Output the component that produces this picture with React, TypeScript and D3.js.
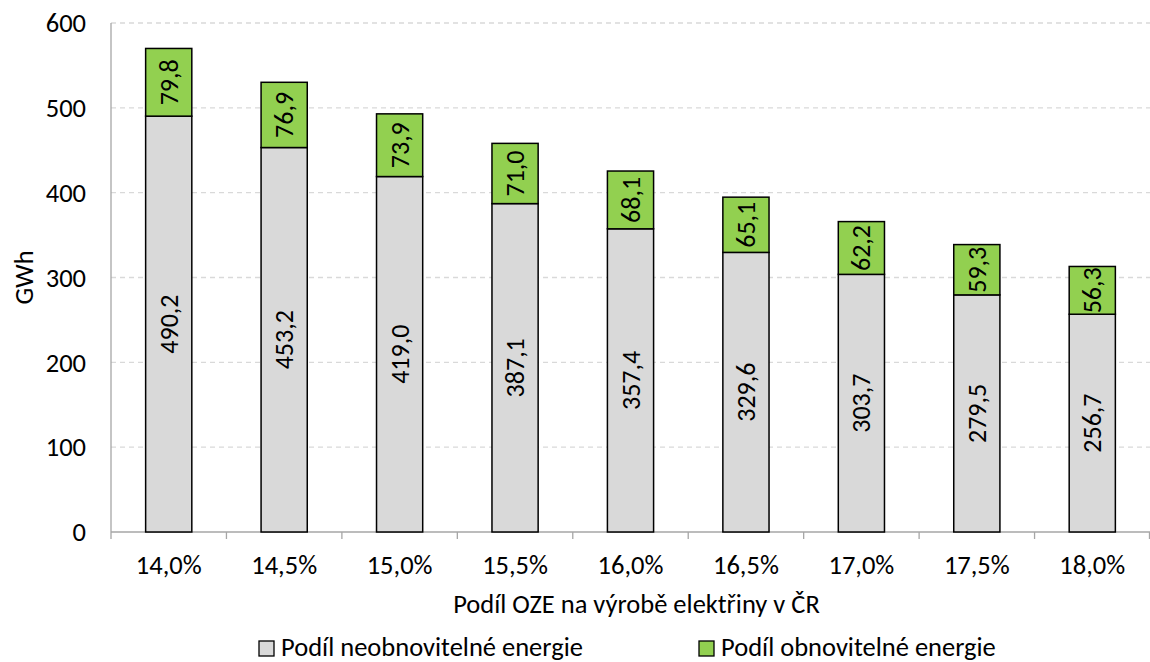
import React from "react";
import * as d3 from "d3";

const categories = ["14,0%", "14,5%", "15,0%", "15,5%", "16,0%", "16,5%", "17,0%", "17,5%", "18,0%"];
const nonRenewable = [490.2, 453.2, 419.0, 387.1, 357.4, 329.6, 303.7, 279.5, 256.7];
const renewable = [79.8, 76.9, 73.9, 71.0, 68.1, 65.1, 62.2, 59.3, 56.3];
const yTicks = [0, 100, 200, 300, 400, 500, 600];
const seriesNames = ["Podíl neobnovitelné energie", "Podíl obnovitelné energie"];
const colors = ["#d9d9d9", "#92d050"];

const fmt = (v: number) => v.toFixed(1).replace(".", ",");
const FONT = "Carlito, Calibri, 'Open Sans', 'Liberation Sans', sans-serif";

export default function App() {
  const W = 1150, H = 662;
  const left = 111, right = 1150, top = 23, bottom = 532;
  const x = d3.scaleBand<string>().domain(categories).range([left, right]).paddingInner(0.6).paddingOuter(0.3);
  const xb = d3.scaleBand<string>().domain(categories).range([left, right]);
  const y = d3.scaleLinear().domain([0, 600]).range([bottom, top]);
  const bw = x.bandwidth();
  const fs = 26.5;

  return (
    <svg width={W} height={H} style={{ position: "absolute", left: 0, top: 0, fontFamily: FONT }}>
      <rect width={W} height={H} fill="white" />
      {yTicks.filter(t => t > 0).map(t => (
        <line key={t} x1={left} x2={right} y1={y(t)} y2={y(t)} stroke="#d9d9d9" strokeWidth={1.3} strokeDasharray="5,4" />
      ))}
      <line x1={left} x2={left} y1={top} y2={bottom} stroke="#a6a6a6" strokeWidth={1.3} />
      <line x1={left} x2={right} y1={bottom} y2={bottom} stroke="#a6a6a6" strokeWidth={1.3} />
      {categories.map((c, i) => (
        <line key={"t" + i} x1={xb(c)!} x2={xb(c)!} y1={bottom} y2={bottom + 7} stroke="#a6a6a6" strokeWidth={1.3} />
      ))}
      <line x1={right - 0.5} x2={right - 0.5} y1={bottom} y2={bottom + 7} stroke="#a6a6a6" strokeWidth={1.3} />
      {yTicks.map(t => (
        <text key={t} x={left - 25} y={y(t)} dy="0.35em" textAnchor="end" fontSize={fs} fill="#000">{t}</text>
      ))}
      {categories.map((c, i) => {
        const x0 = x(c)!;
        const y0 = y(nonRenewable[i]);
        const y1 = y(nonRenewable[i] + renewable[i]);
        const cx = x0 + bw / 2;
        return (
          <g key={c}>
            <rect x={x0} y={y0} width={bw} height={bottom - y0} fill={colors[0]} stroke="#000" strokeWidth={1.5} />
            <rect x={x0} y={y1} width={bw} height={y0 - y1} fill={colors[1]} stroke="#000" strokeWidth={1.5} />
            <text transform={`translate(${cx},${(y0 + bottom) / 2}) rotate(-90)`} textAnchor="middle" dy="0.35em" fontSize={26} fill="#000">{fmt(nonRenewable[i])}</text>
            <text transform={`translate(${cx},${(y0 + y1) / 2}) rotate(-90)`} textAnchor="middle" dy="0.35em" fontSize={26} fill="#000">{fmt(renewable[i])}</text>
            <text x={xb(c)! + xb.bandwidth() / 2} y={574} textAnchor="middle" fontSize={fs} fill="#000">{c}</text>
          </g>
        );
      })}
      <text transform={`translate(24,${(top + bottom) / 2}) rotate(-90)`} textAnchor="middle" dy="0.35em" fontSize={fs} fill="#000">GWh</text>
      <text x={(left + right) / 2 + 6} y={613} textAnchor="middle" fontSize={fs} fill="#000">Podíl OZE na výrobě elektřiny v ČR</text>
      {seriesNames.map((n, i) => {
        const lx = i === 0 ? 259 : 699;
        return (
          <g key={n}>
            <rect x={lx} y={641} width={15} height={15} fill={colors[i]} stroke="#000" strokeWidth={1.3} />
            <text x={lx + 22} y={656} fontSize={fs} fill="#000">{n}</text>
          </g>
        );
      })}
    </svg>
  );
}
